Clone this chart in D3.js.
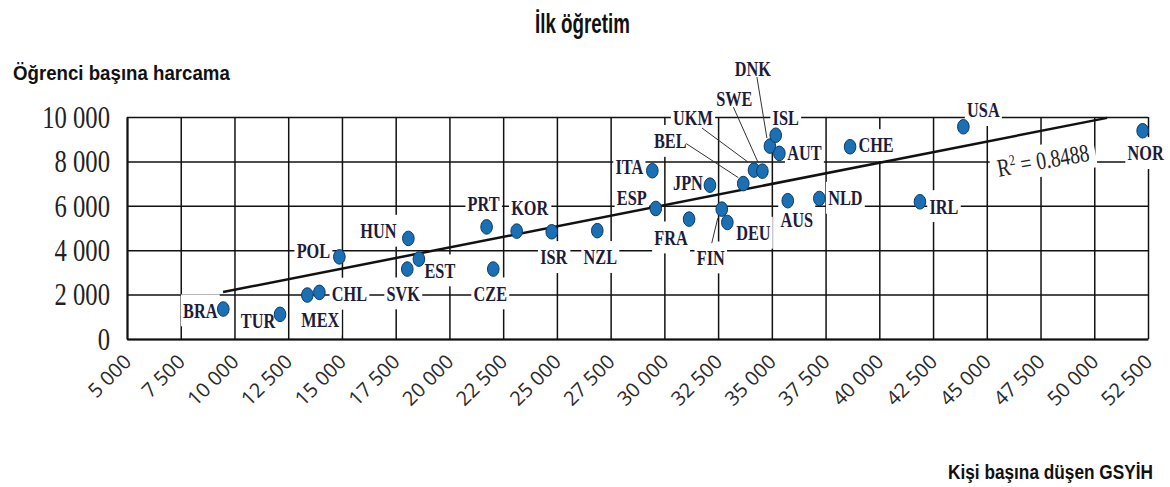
<!DOCTYPE html>
<html>
<head>
<meta charset="utf-8">
<title>İlk öğretim</title>
<script src="https://d3js.org/d3.v7.min.js"></script>
<style>
  body { margin: 0; background: #fff; }
</style>
</head>
<body>
<svg id="chart"></svg>
<script>
// Veri: ülke kodları, kişi başına GSYİH, öğrenci başına harcama
const countries = ["BRA","TUR","MEX","CHL","POL","HUN","SVK","EST","PRT","CZE","KOR","ISR","NZL","ITA","ESP","FRA","JPN","FIN","DEU","BEL","UKM","SWE","DNK","ISL","AUT","AUS","NLD","CHE","IRL","USA","NOR"];
const gdp = [9480,12120,13390,13950,14880,18090,18040,18580,21730,22040,23130,24760,26880,29440,29600,31150,32120,32670,32930,33670,34170,34560,34910,35180,35350,35740,37210,38640,41890,43910,52250];
const spend = [1350,1110,1980,2100,3700,4530,3150,3600,5050,3150,4860,4830,4880,7580,5880,5400,6930,5850,5250,7000,7610,7560,8690,9180,8360,6230,6330,8660,6180,9560,9380];
// Eğilim çizgisi (resimden okunan uç noktalar)
const trendX = [9470, 50600];
const trendY = [2115, 9960];
const xTicks = d3.range(5000, 52501, 2500);
const yTicks = [0, 2000, 4000, 6000, 8000, 10000];

// Etiket yerleşimi (noktaya göre piksel kayması)
const labelOffset = {
  BRA:[-23,1], TUR:[-22,6], MEX:[13,24], CHL:[30,1], SVK:[-4,24], POL:[-26,-7],
  HUN:[-30,-8], EST:[21,11], PRT:[-3,-24], CZE:[-3,24], KOR:[13,-24], ISR:[2,25],
  NZL:[3,26], ITA:[-23,-4], ESP:[-24,-11], FRA:[-18,18], JPN:[-22,-3], FIN:[-11,48],
  DEU:[26,10], BEL:[-73,-43], UKM:[-61,-53], SWE:[-28,-73], DNK:[-17,-78], ISL:[10,-18],
  AUT:[25,-1], AUS:[9,19], NLD:[26,-1], CHE:[26,-2], IRL:[24,4], USA:[20,-17], NOR:[3,22]
};
const leaders = {
  FIN:[-10,34,-4,9], BEL:[-57,-40,-5,-6], UKM:[-52,-42,-6,-8],
  SWE:[-29,-64,-4,-8], DNK:[-13,-69,-3,-8]
};

const W = 1170, H = 487;
const svg = d3.select("#chart").attr("width", W).attr("height", H);

const x = d3.scaleLinear().domain([5000, 52500]).range([127, 1148]);
const y = d3.scaleLinear().domain([0, 10000]).range([339, 117]);
const fmt = d => d3.format(",")(d).replace(/,/g, " ");

const data = countries.map((c, i) => ({ code: c, gdp: gdp[i], spend: spend[i] }));

// Dar kalın başlıklar: genişliğe göre yatay sıkıştır
const boldFont = "'Liberation Sans', Arial, sans-serif";
function narrowTitle(txt, x0, y0, size, width) {
  const t = svg.append("text").text(txt)
    .attr("font-family", boldFont).attr("font-weight", "bold")
    .attr("font-size", size).attr("fill", "#111");
  const s = width / t.node().getComputedTextLength();
  t.attr("x", x0 / s).attr("y", y0).attr("transform", `scale(${s},1)`);
}
narrowTitle("İlk öğretim", 535, 33, 27, 95);
narrowTitle("Öğrenci başına harcama", 13, 80, 21, 217);
narrowTitle("Kişi başına düşen GSYİH", 948, 479, 21, 205);

// Izgara ve eksenler
const xAxis = svg.append("g")
  .attr("transform", "translate(0,339)")
  .call(d3.axisBottom(x).tickValues(xTicks).tickSize(-(339 - 117)).tickSizeOuter(0).tickFormat(""));
xAxis.selectAll("line").attr("stroke", "#111").attr("stroke-width", 1.5);
xAxis.select(".domain").attr("stroke", "#111").attr("stroke-width", 2);
xAxis.selectAll(".tick").append("text")
  .text(d => fmt(d))
  .attr("transform", "translate(5,24) rotate(-45)")
  .attr("text-anchor", "end")
  .attr("fill", "#2a2a2a")
  .attr("font-family", "'Open Sans', sans-serif")
  .attr("font-size", 20);

const ySx = 0.77;
const yAxis = svg.append("g")
  .attr("transform", "translate(127,0)")
  .call(d3.axisLeft(y).tickValues(yTicks).tickSize(-(1148 - 127)).tickSizeOuter(0).tickFormat(fmt));
yAxis.selectAll("line").attr("stroke", "#111").attr("stroke-width", 1.5);
yAxis.select(".domain").attr("stroke", "#111").attr("stroke-width", 2);
yAxis.selectAll("text")
  .attr("x", -17 / ySx)
  .attr("transform", `scale(${ySx},1)`)
  .attr("fill", "#222")
  .attr("font-family", "'Liberation Serif', 'Times New Roman', serif")
  .attr("font-size", 32);

// Etiketler (beyaz zeminli)
const labelColor = "#1e1b3a";
const labels = svg.append("g").selectAll("g")
  .data(data).enter().append("g")
  .attr("transform", d => {
    const o = labelOffset[d.code];
    return `translate(${x(d.gdp) + o[0]},${y(d.spend) + o[1]}) scale(0.74,1)`;
  });
labels.append("text")
  .text(d => d.code)
  .attr("text-anchor", "middle")
  .attr("dy", "0.35em")
  .attr("fill", labelColor)
  .attr("font-family", "'Liberation Serif', 'Times New Roman', serif")
  .attr("font-weight", "bold")
  .attr("font-size", 22);
labels.each(function() {
  const g = d3.select(this);
  const b = g.select("text").node().getBBox();
  g.insert("rect", "text")
   .attr("x", b.x - 3).attr("y", b.y - 4)
   .attr("width", b.width + 6).attr("height", b.height + 8)
   .attr("fill", "#fff");
});

// R² etiketi
const r2 = svg.append("g").attr("transform", "translate(1043,160) rotate(-10) scale(0.78,1)");
const r2t = r2.append("text")
  .attr("text-anchor", "middle").attr("dy", "0.35em")
  .attr("fill", "#222")
  .attr("font-family", "'Liberation Serif', 'Times New Roman', serif")
  .attr("font-size", 25);
r2t.append("tspan").text("R");
r2t.append("tspan").text("2").attr("font-size", 15).attr("dy", -9);
r2t.append("tspan").text(" = 0.8488").attr("dy", 9);
const rb = r2t.node().getBBox();
r2.insert("rect", "text")
  .attr("x", rb.x - 8).attr("y", rb.y - 2)
  .attr("width", rb.width + 16).attr("height", rb.height + 4)
  .attr("fill", "#fff");

// Eğilim çizgisi
svg.append("line")
  .attr("x1", x(trendX[0])).attr("y1", y(trendY[0]))
  .attr("x2", x(trendX[1])).attr("y2", y(trendY[1]))
  .attr("stroke", "#111").attr("stroke-width", 2.5);

// Kılavuz çizgileri
svg.append("g").selectAll("line")
  .data(data.filter(d => leaders[d.code])).enter().append("line")
  .attr("x1", d => x(d.gdp) + leaders[d.code][0])
  .attr("y1", d => y(d.spend) + leaders[d.code][1])
  .attr("x2", d => x(d.gdp) + leaders[d.code][2])
  .attr("y2", d => y(d.spend) + leaders[d.code][3])
  .attr("stroke", "#333").attr("stroke-width", 1);

// Noktalar
svg.append("g").selectAll("ellipse")
  .data(data).enter().append("ellipse")
  .attr("cx", d => x(d.gdp))
  .attr("cy", d => y(d.spend))
  .attr("rx", 5.8).attr("ry", 7.3)
  .attr("fill", "#1b6fb5")
  .attr("stroke", "#0b3c66").attr("stroke-width", 1);
</script>
</body>
</html>
